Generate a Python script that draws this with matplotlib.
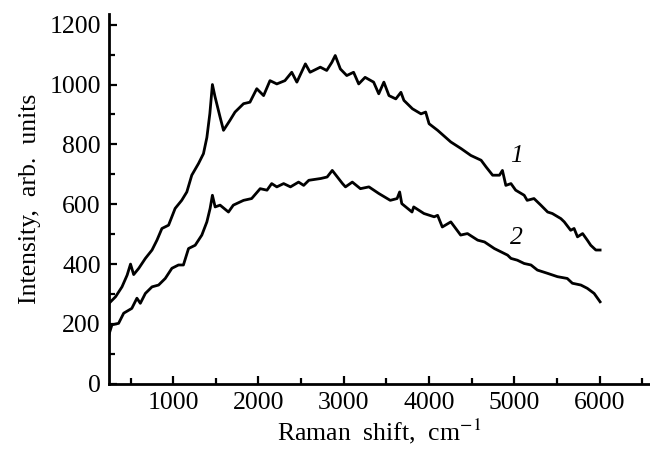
import matplotlib.pyplot as plt
from matplotlib.ticker import MultipleLocator

# Raman spectra, curves 1 and 2
x1 = [245, 325, 400, 460, 500, 537, 597, 674, 752, 810, 868, 946, 1023, 1100, 1160,
      1218, 1297, 1355, 1395, 1430, 1460, 1490, 1550, 1590, 1665, 1725, 1825, 1900,
      1980, 2060, 2135, 2215, 2310, 2390, 2450, 2550, 2605, 2725, 2800, 2860, 2900,
      2960, 3035, 3115, 3175, 3250, 3350, 3410, 3470, 3530, 3610, 3670, 3705, 3805,
      3905, 3960, 4000, 4100, 4255, 4375, 4490, 4610, 4670, 4745, 4825, 4860, 4900,
      4960, 5015, 5115, 5150, 5230, 5310, 5390, 5445, 5545, 5585, 5660, 5700, 5740,
      5800, 5855, 5895, 5955, 6005]
y1 = [268, 291, 324, 363, 400, 365, 386, 419, 447, 480, 519, 530, 586, 613, 641,
      697, 736, 769, 823, 903, 1000, 960, 891, 847, 880, 908, 936, 941,
      986, 963, 1013, 1002, 1013, 1041, 1008, 1069, 1041, 1058, 1047, 1074, 1097,
      1052, 1030, 1041, 1002, 1024, 1008, 969, 1008, 963, 952, 974, 947, 919,
      902, 908, 869, 847, 808, 786, 763, 747, 724, 697, 697, 713, 663,
      669, 647, 630, 613, 619, 597, 574, 569, 552, 541, 513, 519, 491,
      502, 480, 463, 447, 447]

x2 = [240, 282, 360, 420, 515, 575, 615, 674, 752, 829, 907, 985, 1062, 1120, 1180,
      1258, 1336, 1395, 1433, 1460, 1492, 1550, 1648, 1705, 1825, 1920, 2020, 2100,
      2155, 2215, 2295, 2375, 2470, 2530, 2590, 2730, 2805, 2865, 2925, 2985, 3020,
      3100, 3195, 3295, 3410, 3545, 3625, 3655, 3680, 3800, 3820, 3940, 4060, 4100,
      4155, 4255, 4370, 4450, 4570, 4650, 4765, 4920, 4960, 5035, 5115, 5195, 5270,
      5390, 5505, 5620, 5680, 5780, 5855, 5935, 6005]
y2 = [158, 197, 202, 236, 252, 286, 269, 302, 324, 330, 352, 386, 397, 397, 452,
      463, 497, 541, 586, 630, 591, 597, 574, 597, 613, 619, 652, 647,
      669, 658, 669, 658, 674, 663, 680, 686, 691, 713, 691, 669, 658,
      674, 652, 658, 636, 613, 619, 641, 602, 574, 591, 569, 558, 563,
      524, 541, 497, 502, 480, 474, 452, 430, 419, 413, 402, 397, 380,
      369, 358, 352, 336, 330, 319, 302, 274]

plt.rcParams.update({
    "font.family": "Liberation Serif",
    "mathtext.fontset": "stix",
    "font.size": 18.5,
})

fig = plt.figure(figsize=(6.5, 4.58), dpi=100)
ax = fig.add_axes([0.168, 0.162, 0.832, 0.807])

ax.plot(x1, y1, color="black", lw=2.0)
ax.plot(x2, y2, color="black", lw=2.0)

ax.text(5025, 760, "1", fontsize=18.5, style="italic", ha="center", va="center")
ax.text(5025, 487, "2", fontsize=18.5, style="italic", ha="center", va="center")

ax.set_xlim(250, 6590)
ax.set_ylim(0, 1235)
ax.xaxis.set_major_locator(MultipleLocator(1000))
ax.xaxis.set_minor_locator(MultipleLocator(500))
ax.yaxis.set_major_locator(MultipleLocator(200))
ax.yaxis.set_minor_locator(MultipleLocator(100))

for s in ["top", "right"]:
    ax.spines[s].set_visible(False)
for s in ["left", "bottom"]:
    ax.spines[s].set_linewidth(2.0)

ax.tick_params(which="both", direction="in", width=1.6, labelsize=18.5, pad=6)
ax.tick_params(which="major", length=6)
ax.tick_params(which="minor", length=4)

ax.set_xlabel("Raman  shift,  cm$^{-1}$", labelpad=2)
ax.set_ylabel("Intensity,  arb.  units", labelpad=6)

fig.savefig("out.png", dpi=100)
